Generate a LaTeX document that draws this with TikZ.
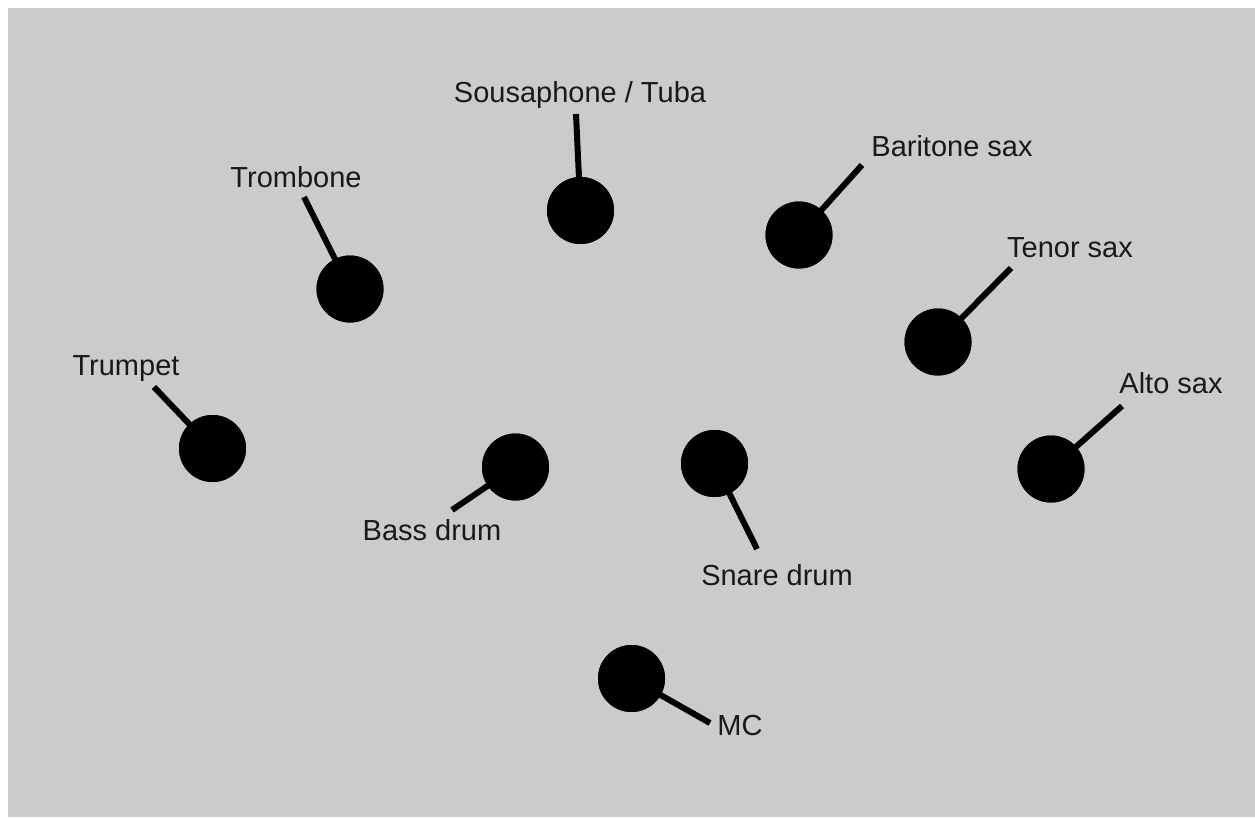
\documentclass[tikz,border=0pt]{standalone}
\usepackage{fontspec}
\setmainfont{Liberation Sans}
\definecolor{bggray}{HTML}{CBCBCB}
\begin{document}
\begin{tikzpicture}[x=1pt,y=-1pt,
  seat/.style={circle,fill=black,minimum size=67pt,inner sep=0pt},
  stem/.style={line width=6pt,black},
  lbl/.style={anchor=base,inner sep=0pt,font=\fontsize{29}{34}\selectfont,text=black!90}]
\useasboundingbox (0,0) rectangle (1255,817);
\fill[white] (0,0) rectangle (1255,817);
\fill[bggray] (8,8) rectangle (1255,817);
% seats
\node[seat] (sousa) at (580.5,210.5) {};
\node[seat] (tromb) at (350,289) {};
\node[seat] (bari) at (799,235) {};
\node[seat] (tenor) at (938,342) {};
\node[seat] (alto) at (1051,469) {};
\node[seat] (trump) at (212.5,448.5) {};
\node[seat] (bass) at (515.5,467) {};
\node[seat] (snare) at (714.5,463.5) {};
\node[seat] (mc) at (631.5,678.5) {};
% stem ends
\coordinate (esousa) at (576,114);
\coordinate (etromb) at (304,197);
\coordinate (ebari) at (862,165);
\coordinate (etenor) at (1011,268);
\coordinate (ealto) at (1122,406);
\coordinate (etrump) at (154,387);
\coordinate (ebass) at (452,510);
\coordinate (esnare) at (757,549);
\coordinate (emc) at (710,723);
% stems
\draw[stem] (esousa) -- (sousa.center);
\draw[stem] (etromb) -- (tromb.center);
\draw[stem] (ebari) -- (bari.center);
\draw[stem] (etenor) -- (tenor.center);
\draw[stem] (ealto) -- (alto.center);
\draw[stem] (etrump) -- (trump.center);
\draw[stem] (ebass) -- (bass.center);
\draw[stem] (esnare) -- (snare.center);
\draw[stem] (emc) -- (mc.center);
% redraw seats on top
\foreach \n in {sousa,tromb,bari,tenor,alto,trump,bass,snare,mc}
  \fill[black] (\n) circle (33.5pt);
% labels
\node[lbl] (lsousa) at (580,102) {Sousaphone / Tuba};
\node[lbl] (ltromb) at (296,187) {Trombone};
\node[lbl] (lbari) at (952,156) {Baritone sax};
\node[lbl] (ltenor) at (1070,257) {Tenor sax};
\node[lbl] (lalto) at (1171,393) {Alto sax};
\node[lbl] (ltrump) at (126,375) {Trumpet};
\node[lbl] (lbass) at (432,540) {Bass drum};
\node[lbl] (lsnare) at (777,585) {Snare drum};
\node[lbl] (lmc) at (740,735) {MC};
\end{tikzpicture}
\end{document}
